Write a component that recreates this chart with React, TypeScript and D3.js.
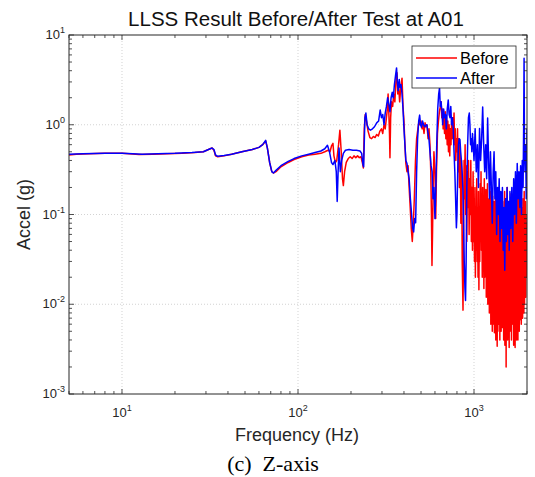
import React from "react";
import * as d3 from "d3";

const TITLE = "LLSS Result Before/After Test at A01";
const X_LABEL = "Frequency (Hz)";
const Y_LABEL = "Accel (g)";
const CAPTION = "(c)  Z-axis";
const SERIES_NAMES = ["Before", "After"];
const SERIES_COLORS = ["#ff0000", "#0000ff"];
const X_DOMAIN: [number, number] = [5, 2000];
const Y_DOMAIN: [number, number] = [0.001, 10];
const X_TICK_EXP = [1, 2, 3];
const Y_TICK_EXP = [-3, -2, -1, 0, 1];

// [frequency Hz, accel g]
const beforeData: [number, number][] = [
  [5, 0.46], [5.5, 0.47], [6.5, 0.475], [8, 0.48], [10, 0.48], [11, 0.475], [12.5, 0.465], [15, 0.47],
  [18, 0.475], [22, 0.48], [26, 0.49], [29, 0.5], [31, 0.53], [32.5, 0.55], [33.3, 0.52], [34, 0.45],
  [35, 0.44], [38, 0.45], [42, 0.47], [48, 0.5], [55, 0.53], [60, 0.56], [63, 0.6], [65.5, 0.66],
  [67, 0.55], [69, 0.38], [71, 0.3], [72.5, 0.29], [75, 0.3], [80, 0.34], [88, 0.38], [95, 0.41],
  [105, 0.44], [115, 0.46], [125, 0.47], [135, 0.48], [142, 0.5], [148, 0.52], [152, 0.5], [155, 0.58],
  [158, 0.62], [160, 0.45], [163, 0.38], [166, 0.4], [170, 0.6], [173, 0.87], [176, 0.5], [179, 0.25],
  [181, 0.21], [184, 0.3], [188, 0.38], [193, 0.42], [198, 0.44], [203, 0.42], [208, 0.45], [213, 0.43],
  [218, 0.45], [223, 0.43], [228, 0.44], [232, 0.38], [235, 0.33], [238, 0.9], [241, 1.3], [245, 1.1],
  [250, 0.85], [256, 0.72], [262, 0.7], [268, 0.74], [274, 0.72], [280, 0.78], [286, 0.75], [292, 0.85],
  [298, 0.9], [303, 0.8], [308, 1.0], [313, 0.9], [318, 1.2], [322, 1.5], [325, 2.2], [328, 1.4],
  [331, 0.8], [333, 0.43], [336, 1.2], [340, 1.8], [345, 1.6], [350, 2.2], [355, 1.8], [360, 3.0],
  [365, 3.8], [369, 2.2], [373, 2.7], [378, 1.8], [383, 2.5], [390, 3.3], [395, 1.6], [400, 1.1],
  [405, 0.6], [410, 0.37], [416, 0.3], [422, 0.35], [428, 0.2], [434, 0.12], [440, 0.07], [446, 0.05],
  [452, 0.08], [458, 0.15], [465, 0.4], [472, 0.7], [480, 0.9], [487, 1.1], [493, 1.0], [500, 1.1],
  [507, 0.9], [513, 1.0], [520, 0.8], [527, 1.05], [534, 0.95], [541, 0.99], [548, 0.7], [555, 0.9],
  [562, 0.6], [568, 0.3], [573, 0.1], [577, 0.027], [581, 0.06], [586, 0.2], [592, 0.5], [600, 0.3],
  [606, 0.09], [612, 0.3], [620, 0.8], [628, 1.1], [636, 1.4], [644, 1.6], [650, 1.8], [656, 1.2],
  [662, 1.5], [668, 0.9], [674, 1.3], [680, 0.8], [686, 1.4], [692, 0.7], [698, 1.2], [704, 0.6],
  [710, 1.1], [716, 0.5], [722, 1.0], [728, 0.45], [734, 0.9], [740, 0.6], [746, 1.1], [752, 0.7],
  [758, 1.2], [764, 0.8], [770, 1.35], [776, 0.6], [782, 0.9], [788, 0.4], [794, 0.7], [800, 0.5],
  [806, 0.9], [812, 0.3], [818, 0.7], [826, 0.2], [834, 0.6], [842, 0.08], [850, 0.4], [857, 0.03],
  [866, 0.0086], [872, 0.05], [878, 0.4], [884, 0.15], [890, 0.6], [897, 0.1], [903, 0.35], [910, 0.05],
  [917, 0.3], [924, 0.12], [931, 0.4], [938, 0.06], [945, 0.25], [952, 0.1], [959, 0.4], [966, 0.05],
  [973, 0.2], [980, 0.04], [988, 0.3], [996, 0.05],
  [1000, 0.15], [1006, 0.03], [1012, 0.2], [1018, 0.02], [1024, 0.12], [1030, 0.04], [1036, 0.25],
  [1042, 0.03], [1048, 0.1], [1054, 0.02], [1060, 0.18], [1066, 0.0145], [1072, 0.09], [1078, 0.03],
  [1084, 0.22], [1090, 0.05], [1096, 0.3], [1102, 0.04], [1108, 0.14], [1114, 0.02], [1120, 0.2],
  [1126, 0.03], [1132, 0.11], [1138, 0.015], [1144, 0.25], [1150, 0.02], [1156, 0.13], [1162, 0.04],
  [1168, 0.19], [1174, 0.012], [1180, 0.1], [1186, 0.03], [1192, 0.22], [1198, 0.01], [1204, 0.15],
  [1210, 0.025], [1216, 0.09], [1222, 0.008], [1228, 0.18], [1234, 0.02], [1240, 0.12], [1246, 0.006],
  [1252, 0.2], [1258, 0.015], [1264, 0.1], [1270, 0.005], [1276, 0.16], [1282, 0.012], [1288, 0.08],
  [1294, 0.006], [1300, 0.14], [1306, 0.0048], [1312, 0.1], [1318, 0.009], [1324, 0.19], [1330, 0.004],
  [1336, 0.12], [1342, 0.007], [1348, 0.08], [1354, 0.0034], [1360, 0.15], [1366, 0.005], [1372, 0.1],
  [1378, 0.012], [1384, 0.2], [1390, 0.006], [1396, 0.09], [1402, 0.004], [1408, 0.13], [1414, 0.01],
  [1420, 0.07], [1426, 0.005], [1432, 0.17], [1438, 0.008], [1444, 0.1], [1450, 0.0055], [1456, 0.14],
  [1462, 0.009], [1468, 0.08], [1474, 0.004], [1480, 0.12], [1486, 0.01], [1492, 0.18], [1498, 0.0035],
  [1504, 0.1], [1510, 0.006], [1516, 0.15], [1522, 0.002], [1528, 0.09], [1536, 0.007], [1544, 0.2],
  [1552, 0.004], [1560, 0.11], [1568, 0.006], [1576, 0.14], [1584, 0.0033], [1592, 0.08], [1600, 0.005],
  [1608, 0.12], [1616, 0.008], [1624, 0.17], [1632, 0.004], [1640, 0.1], [1648, 0.006], [1656, 0.13],
  [1664, 0.009], [1672, 0.07], [1680, 0.0035], [1688, 0.16], [1696, 0.005], [1704, 0.1], [1712, 0.0033],
  [1720, 0.12], [1728, 0.007], [1736, 0.09], [1744, 0.004], [1752, 0.18], [1760, 0.006], [1768, 0.11],
  [1776, 0.004], [1784, 0.15], [1792, 0.008], [1800, 0.09], [1808, 0.005], [1816, 0.14], [1824, 0.0067],
  [1832, 0.1], [1840, 0.009], [1848, 0.2], [1856, 0.006], [1864, 0.12], [1872, 0.01], [1880, 0.08],
  [1888, 0.007], [1896, 0.15], [1904, 0.012], [1912, 0.1], [1920, 0.008], [1928, 0.18], [1936, 0.01],
  [1944, 0.09], [1952, 0.015], [1960, 0.14], [1968, 0.012], [1976, 0.1], [1984, 0.02], [1992, 0.08],
  [2000, 0.026],
];

const afterData: [number, number][] = [
  [5, 0.47], [6, 0.475], [8, 0.48], [10, 0.48], [11.5, 0.475], [13, 0.47], [16, 0.475], [20, 0.48],
  [25, 0.49], [29, 0.5], [31, 0.53], [32.5, 0.55], [33.3, 0.53], [34, 0.46], [35, 0.445], [38, 0.455],
  [42, 0.47], [48, 0.5], [55, 0.53], [60, 0.56], [63, 0.6], [65.5, 0.67], [67, 0.55], [69, 0.38],
  [71, 0.3], [72.5, 0.29], [75, 0.31], [80, 0.35], [88, 0.39], [95, 0.42], [105, 0.45], [115, 0.47],
  [125, 0.49], [135, 0.51], [142, 0.54], [147, 0.59], [151, 0.5], [155, 0.38], [158, 0.36], [162, 0.4],
  [165, 0.3], [167, 0.14], [169, 0.3], [171, 0.55], [174, 0.3], [177, 0.4], [181, 0.48], [186, 0.52],
  [195, 0.53], [205, 0.52], [215, 0.52], [225, 0.51], [230, 0.48], [234, 0.36], [236, 0.34], [240, 1.2],
  [243, 1.35], [247, 1.0], [252, 0.9], [258, 0.87], [265, 0.9], [272, 0.95], [280, 1.05], [287, 1.1],
  [293, 1.46], [298, 1.2], [303, 1.3], [308, 1.0], [313, 1.35], [318, 1.6], [323, 2.0], [328, 1.7],
  [333, 1.4], [338, 2.0], [343, 2.3], [348, 2.0], [353, 2.8], [358, 3.5], [363, 4.3], [367, 3.0],
  [371, 2.4], [376, 3.2], [380, 2.6], [385, 2.8], [390, 2.2], [395, 1.5], [400, 0.9], [405, 0.6],
  [410, 0.4], [416, 0.37], [422, 0.3], [428, 0.25], [435, 0.15], [442, 0.1], [448, 0.07], [454, 0.064],
  [460, 0.09], [466, 0.081], [472, 0.3], [478, 0.7], [485, 1.1], [491, 1.28], [497, 1.0], [503, 0.94],
  [510, 1.1], [517, 1.0], [525, 0.95], [533, 0.99], [540, 1.0], [548, 0.8], [555, 0.68], [562, 0.5],
  [570, 0.35], [578, 0.3], [585, 0.15], [592, 0.2], [600, 0.09], [607, 0.2], [614, 0.6], [622, 1.5],
  [630, 2.2], [637, 2.57], [643, 1.6], [650, 1.8], [657, 1.4], [664, 1.0], [672, 1.5], [680, 1.2],
  [688, 1.3], [696, 0.9], [705, 1.5], [714, 1.89], [722, 1.3], [730, 1.2], [738, 1.6], [746, 1.0],
  [754, 1.2], [762, 0.9], [770, 0.5], [778, 0.3], [786, 0.15], [794, 0.071], [800, 0.1], [808, 0.3],
  [816, 0.6], [824, 0.7], [832, 0.68], [840, 0.5], [848, 0.4], [856, 0.3], [864, 0.2], [872, 0.08],
  [880, 0.03], [888, 0.015], [895, 0.011], [902, 0.03], [910, 0.2], [920, 0.6], [930, 1.2], [940, 1.35],
  [948, 1.0], [956, 0.6], [964, 0.7], [972, 0.5], [980, 0.8], [990, 0.6],
  [1000, 0.4], [1015, 0.9], [1030, 0.3], [1045, 0.6], [1060, 0.2], [1075, 0.91], [1090, 0.4], [1105, 0.7],
  [1120, 1.58], [1135, 0.6], [1150, 0.3], [1165, 0.6], [1180, 0.25], [1195, 1.19], [1210, 0.4], [1225, 0.15],
  [1240, 0.5], [1255, 0.2], [1270, 0.08], [1285, 0.3], [1300, 0.5], [1315, 0.15], [1330, 0.3], [1345, 0.06],
  [1360, 0.2], [1375, 0.1], [1390, 0.25], [1405, 0.05], [1420, 0.18], [1435, 0.07], [1450, 0.2], [1465, 0.04],
  [1480, 0.12], [1495, 0.024], [1510, 0.15], [1525, 0.05], [1540, 0.2], [1555, 0.06], [1570, 0.14], [1585, 0.04],
  [1600, 0.18], [1620, 0.07], [1640, 0.2], [1660, 0.05], [1680, 0.25], [1700, 0.1], [1720, 0.3], [1740, 0.08],
  [1760, 0.37], [1780, 0.15], [1800, 0.3], [1820, 0.12], [1840, 0.35], [1860, 0.1], [1880, 0.4], [1900, 0.2],
  [1915, 1.0], [1925, 5.5], [1935, 0.5], [1950, 0.3], [1965, 0.6], [1980, 0.15], [2000, 0.9],
];

const W = 535;
const H = 477;
const M = { left: 69, right: 527, top: 35, bottom: 394 };
const AXIS_COLOR = "#262626";
const FONT = "'Liberation Sans', Arial, Helvetica, sans-serif";

export default function App() {
  const x = d3.scaleLog().domain(X_DOMAIN).range([M.left, M.right]);
  const y = d3.scaleLog().domain(Y_DOMAIN).range([M.bottom, M.top]);
  const line = d3
    .line<[number, number]>()
    .x((d) => x(d[0]))
    .y((d) => y(d[1]));

  const xMinor: number[] = [];
  for (let e = 0; e <= 3; e++) {
    for (let m = 1; m <= 9; m++) {
      const v = m * Math.pow(10, e);
      if (v >= X_DOMAIN[0] && v <= X_DOMAIN[1]) xMinor.push(v);
    }
  }
  const yMinor: number[] = [];
  for (let e = -3; e <= 0; e++) {
    for (let m = 1; m <= 9; m++) yMinor.push(m * Math.pow(10, e));
  }
  yMinor.push(10);

  const isMajor = (v: number) => Math.abs(Math.log10(v) - Math.round(Math.log10(v))) < 1e-9;

  const series = [beforeData, afterData];
  const cx = (M.left + M.right) / 2;

  return (
    <svg
      width={W}
      height={H}
      style={{ position: "absolute", left: 0, top: 0, background: "#fff" }}
      fontFamily={FONT}
    >
      <rect x={0} y={0} width={W} height={H} fill="#fff" />
      <defs>
        <clipPath id="plotclip">
          <rect x={M.left} y={M.top} width={M.right - M.left} height={M.bottom - M.top} />
        </clipPath>
      </defs>
      {/* grid */}
      {X_TICK_EXP.map((e) => (
        <line key={"gx" + e} x1={x(Math.pow(10, e))} x2={x(Math.pow(10, e))} y1={M.top} y2={M.bottom}
          stroke="#c8c8c8" strokeWidth={0.8} strokeDasharray="1,2" />
      ))}
      {Y_TICK_EXP.filter((e) => e > -3 && e < 1).map((e) => (
        <line key={"gy" + e} y1={y(Math.pow(10, e))} y2={y(Math.pow(10, e))} x1={M.left} x2={M.right}
          stroke="#c8c8c8" strokeWidth={0.8} strokeDasharray="1,2" />
      ))}
      {/* data */}
      <g clipPath="url(#plotclip)">
        {series.map((s, i) => (
          <path key={i} d={line(s) || ""} fill="none" stroke={SERIES_COLORS[i]} strokeWidth={1.5}
            strokeLinejoin="round" />
        ))}
      </g>
      {/* ticks */}
      {xMinor.map((v, i) => {
        const L = isMajor(v) ? 5 : 3;
        const px = x(v);
        return (
          <g key={"xt" + i} stroke={AXIS_COLOR} strokeWidth={0.8}>
            <line x1={px} x2={px} y1={M.bottom} y2={M.bottom - L} />
            <line x1={px} x2={px} y1={M.top} y2={M.top + L} />
          </g>
        );
      })}
      {yMinor.map((v, i) => {
        const L = isMajor(v) ? 5 : 3;
        const py = y(v);
        return (
          <g key={"yt" + i} stroke={AXIS_COLOR} strokeWidth={0.8}>
            <line y1={py} y2={py} x1={M.left} x2={M.left + L} />
            <line y1={py} y2={py} x1={M.right} x2={M.right - L} />
          </g>
        );
      })}
      <rect x={M.left} y={M.top} width={M.right - M.left} height={M.bottom - M.top}
        fill="none" stroke={AXIS_COLOR} strokeWidth={1} />
      {/* tick labels */}
      {X_TICK_EXP.map((e) => (
        <text key={"xl" + e} x={x(Math.pow(10, e))} y={M.bottom + 23} textAnchor="middle" fontSize={13}
          fill={AXIS_COLOR}>
          10<tspan dy={-6} fontSize={9}>{e}</tspan>
        </text>
      ))}
      {Y_TICK_EXP.map((e) => (
        <text key={"yl" + e} x={M.left - 4} y={y(Math.pow(10, e)) + 4} textAnchor="end" fontSize={13}
          fill={AXIS_COLOR}>
          10<tspan dy={-6} fontSize={9}>{e}</tspan>
        </text>
      ))}
      {/* labels */}
      <text x={296} y={26} textAnchor="middle" fontSize={20.5} fill="#111">{TITLE}</text>
      <text x={297} y={441} textAnchor="middle" fontSize={18} fill={AXIS_COLOR}>{X_LABEL}</text>
      <text transform={`translate(30, ${(M.top + M.bottom) / 2}) rotate(-90)`} textAnchor="middle"
        fontSize={18} fill={AXIS_COLOR}>{Y_LABEL}</text>
      <text x={273} y={471} textAnchor="middle" fontSize={22} fill="#000"
        fontFamily="'Liberation Serif', 'Times New Roman', serif" style={{ whiteSpace: "pre" }}>{CAPTION}</text>
      {/* legend */}
      <g>
        <rect x={412} y={46} width={104} height={42} fill="#fff" stroke={AXIS_COLOR} strokeWidth={0.8} />
        {SERIES_NAMES.map((n, i) => (
          <g key={n}>
            <line x1={416} x2={457} y1={58 + i * 20} y2={58 + i * 20} stroke={SERIES_COLORS[i]} strokeWidth={1.4} />
            <text x={460} y={58 + i * 20 + 5.5} fontSize={16.5} fill="#000">{n}</text>
          </g>
        ))}
      </g>
    </svg>
  );
}
